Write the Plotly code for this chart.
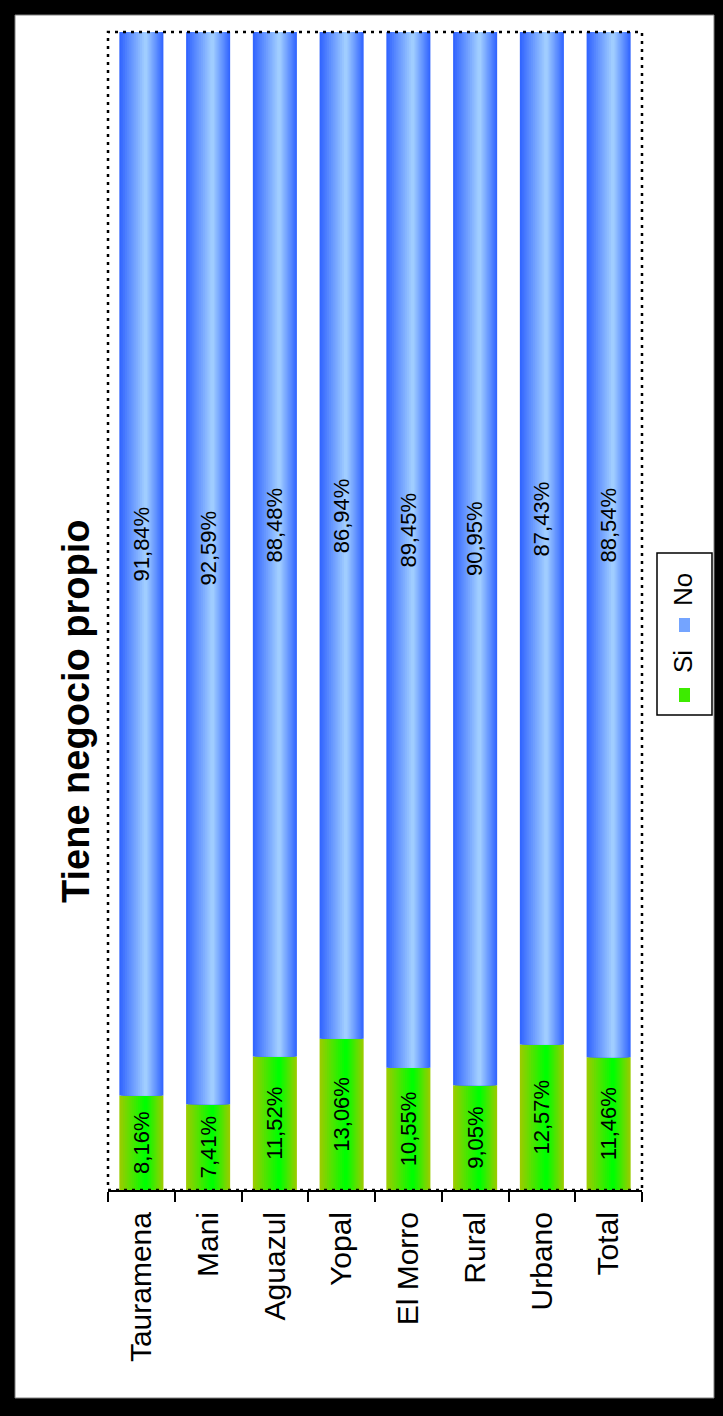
import plotly.graph_objects as go

categories = ["Tauramena", "Mani", "Aguazul", "Yopal", "El Morro", "Rural", "Urbano", "Total"]
si_values = [8.16, 7.41, 11.52, 13.06, 10.55, 9.05, 12.57, 11.46]
no_values = [91.84, 92.59, 88.48, 86.94, 89.45, 90.95, 87.43, 88.54]
series_names = ["Si", "No"]
title_text = "Tiene negocio propio"

FONT = "Arial, Liberation Sans, sans-serif"
W_PX, H_PX = 723, 1416
L, R, T, B = 108, 642, 32, 1190  # plot area in pixels

def px2paper(x, y):
    return (x - L) / (R - L), (B - y) / (B - T)

def lerp(c1, c2, t):
    return "rgb(%d,%d,%d)" % tuple(round(a + (b - a) * t) for a, b in zip(c1, c2))

def fmt(v):
    return ("%.2f" % v).replace(".", ",") + "%"

BAR_W = 0.66
N_LAYERS = 14
CENTER_FRAC = 0.6
gradients = {
    "Si": ((153, 204, 0), (0, 255, 0)),
    "No": ((51, 102, 255), (160, 205, 255)),
}

fig = go.Figure()
for name, base, vals in [("Si", [0] * len(si_values), si_values), ("No", si_values, no_values)]:
    edge, center = gradients[name]
    for k in range(N_LAYERS):
        t = k / (N_LAYERS - 1)
        w = BAR_W * (1 - 0.92 * t)
        off = -BAR_W / 2 + CENTER_FRAC * (BAR_W - w)
        fig.add_trace(go.Bar(
            x=categories, y=vals, base=base, width=w, offset=off,
            marker=dict(color=lerp(edge, center, t), line=dict(width=0)),
            showlegend=False, hoverinfo="skip", name=name,
        ))

# Si value labels (inside the green segment)
fig.add_trace(go.Bar(
    x=categories, y=si_values, base=[0] * len(si_values), width=BAR_W,
    marker=dict(color="rgba(0,0,0,0)", line=dict(width=0)),
    text=[fmt(v) for v in si_values], textposition="inside", insidetextanchor="middle",
    textangle=-90, constraintext="none", textfont=dict(family=FONT, size=22, color="black"),
    showlegend=False, hoverinfo="skip",
))

annotations = []
# No value labels (slightly above the middle of the blue segment)
for cat, s, n in zip(categories, si_values, no_values):
    annotations.append(dict(x=cat, y=s + n / 2 + 1.7, xref="x", yref="y", text=fmt(n),
                            showarrow=False, textangle=-90,
                            font=dict(family=FONT, size=22, color="black"),
                            xanchor="center", yanchor="middle"))

shapes = []
x0, y0 = px2paper(15, 1398)
x1, y1 = px2paper(714, 15)
shapes.append(dict(type="rect", xref="paper", yref="paper", x0=x0, y0=y0, x1=x1, y1=y1,
                   fillcolor="white", line=dict(color="#808080", width=1), layer="below"))
shapes.append(dict(type="rect", xref="paper", yref="paper", x0=0, y0=0, x1=1, y1=1,
                   line=dict(color="black", width=2.5, dash="3px,5px"), layer="above"))
lx0, ly0 = px2paper(657, 715)
lx1, ly1 = px2paper(712, 553)
shapes.append(dict(type="rect", xref="paper", yref="paper", x0=lx0, y0=ly0, x1=lx1, y1=ly1,
                   fillcolor="white", line=dict(color="black", width=1.5)))
legend_items = [("Si", 695, 662, gradients["Si"]), ("No", 625, 590, gradients["No"])]
for name, sq_y, txt_y, (edge, center) in legend_items:
    sx0, sy0 = px2paper(679, sq_y + 7)
    sx1, sy1 = px2paper(690, sq_y - 7)
    shapes.append(dict(type="rect", xref="paper", yref="paper", x0=sx0, y0=sy0, x1=sx1, y1=sy1,
                       fillcolor=lerp(edge, center, 0.6), line=dict(width=0)))
    tx, ty = px2paper(683, txt_y)
    annotations.append(dict(x=tx, y=ty, xref="paper", yref="paper", text=name, showarrow=False,
                            textangle=-90, font=dict(family=FONT, size=26, color="black"),
                            xanchor="center", yanchor="middle"))

tx, ty = px2paper(76, 711)
annotations.append(dict(x=tx, y=ty, xref="paper", yref="paper", text="<b>" + title_text + "</b>",
                        showarrow=False, textangle=-90,
                        font=dict(family=FONT, size=38, color="black"),
                        xanchor="center", yanchor="middle"))

fig.update_layout(
    width=W_PX, height=H_PX,
    margin=dict(l=L, r=W_PX - R, t=T, b=H_PX - B, pad=0),
    paper_bgcolor="black", plot_bgcolor="white",
    barmode="overlay", bargap=0.34,
    showlegend=False,
    shapes=shapes, annotations=annotations,
    xaxis=dict(
        type="category", tickangle=-90, tickson="boundaries", ticks="outside",
        ticklen=10, tickwidth=2, tickcolor="black", showline=True, linecolor="black",
        linewidth=2, showgrid=False, zeroline=False, ticklabelstandoff=8,
        tickfont=dict(family=FONT, size=30, color="black"),
    ),
    yaxis=dict(range=[0, 100], visible=False, showgrid=False, zeroline=False),
)

fig.write_html("out.html", config={"displayModeBar": False},
               post_script="document.body.style.margin='0';document.body.style.background='black';")
